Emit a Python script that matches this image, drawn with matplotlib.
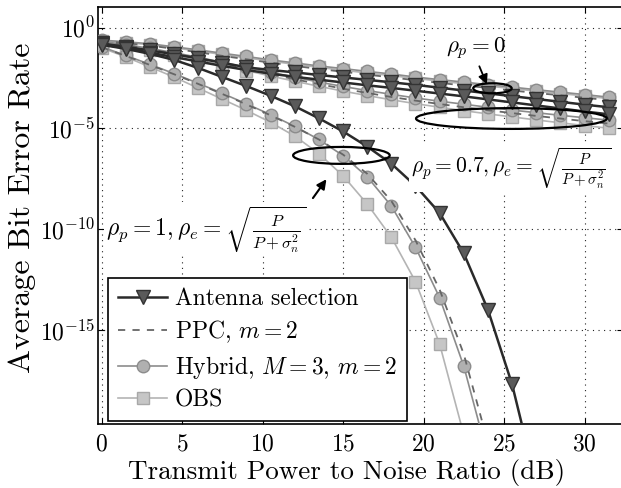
import numpy as np
from matplotlib import pyplot as plt
from matplotlib.patches import Ellipse

plt.rcParams['font.family'] = ['cmr10', 'DejaVu Serif']
plt.rcParams['mathtext.fontset'] = 'cm'
plt.rcParams['axes.formatter.use_mathtext'] = True

# SNR (dB), points every 1.5 dB
snr = np.arange(0, 33, 1.5)

# log10(BER)
# rho_p = 0
ant0 = [-0.78, -0.95, -1.13, -1.32, -1.52, -1.74, -1.97, -2.10, -2.22, -2.35, -2.47, -2.59,
        -2.71, -2.84, -2.98, -3.12, -3.26, -3.40, -3.54, -3.68, -3.82, -3.95]
ppc0 = [-0.66, -0.77, -0.89, -1.05, -1.22, -1.40, -1.57, -1.74, -1.90, -2.05, -2.19, -2.33,
        -2.47, -2.61, -2.74, -2.87, -2.99, -3.12, -3.24, -3.36, -3.48, -3.60]
hyb0 = [-0.62, -0.70, -0.80, -0.95, -1.10, -1.27, -1.43, -1.60, -1.75, -1.90, -2.03, -2.17,
        -2.30, -2.45, -2.58, -2.70, -2.83, -2.95, -3.08, -3.20, -3.32, -3.45]
obs0 = [-0.64, -0.74, -0.85, -1.00, -1.16, -1.33, -1.50, -1.66, -1.82, -1.97, -2.11, -2.25,
        -2.38, -2.52, -2.65, -2.78, -2.90, -3.02, -3.15, -3.27, -3.39, -3.52]
# rho_p = 0.7
ant07 = [-0.82, -1.02, -1.24, -1.46, -1.68, -1.90, -2.10, -2.28, -2.44, -2.58, -2.72, -2.86,
         -2.99, -3.13, -3.27, -3.41, -3.56, -3.71, -3.86, -4.01, -4.16, -4.30]
ppc07 = [-0.70, -0.87, -1.07, -1.29, -1.53, -1.79, -2.05, -2.31, -2.56, -2.80, -3.03, -3.24,
         -3.44, -3.62, -3.79, -3.95, -4.10, -4.24, -4.38, -4.51, -4.64, -4.76]
hyb07 = [-0.68, -0.84, -1.03, -1.24, -1.47, -1.72, -1.97, -2.22, -2.46, -2.70, -2.92, -3.12,
         -3.31, -3.49, -3.65, -3.80, -3.95, -4.09, -4.22, -4.35, -4.47, -4.59]
obs07 = [-0.72, -0.90, -1.11, -1.34, -1.59, -1.86, -2.13, -2.40, -2.66, -2.91, -3.15, -3.37,
         -3.58, -3.77, -3.95, -4.12, -4.28, -4.43, -4.58, -4.72, -4.86, -4.99]
# rho_p = 1
ant1 = [-0.85, -1.05, -1.30, -1.60, -2.00, -2.45, -2.90, -3.38, -3.90, -4.50, -5.15, -5.90,
        -6.75, -7.85, -9.20, -11.20, -14.00, -17.70, -22.60, -28.0, -34.0, -40.0]
ppc1 = [-0.97, -1.40, -1.85, -2.31, -2.79, -3.29, -3.81, -4.35, -4.92, -5.55, -6.30, -7.25,
        -8.60, -10.55, -13.00, -16.20, -20.60, -26.0, -32.0, -38.0, -44.0, -50.0]
hyb1 = [-0.95, -1.38, -1.82, -2.28, -2.76, -3.26, -3.78, -4.32, -4.90, -5.55, -6.35, -7.40,
        -8.85, -10.90, -13.40, -16.80, -21.30, -27.0, -34.0, -42.0, -50.0, -60.0]
obs1 = [-1.00, -1.45, -1.95, -2.45, -3.00, -3.55, -4.10, -4.70, -5.38, -6.25, -7.35, -8.75,
        -10.40, -12.60, -15.70, -20.20, -26.0, -33.0, -40.0, -48.0, -56.0, -64.0]

labels = ['Antenna selection', 'PPC, $m = 2$', 'Hybrid, $M = 3$, $m = 2$', 'OBS']

xmin, xmax = -0.22, 32.39
ylo, yhi = -19.67, 1.04

fig = plt.figure(figsize=(6.21, 4.88), dpi=100)
ax = fig.add_axes([98 / 621, 1 - 424 / 488, 525 / 621, 417.3 / 488])

st_obs = dict(color='#b4b4b4', lw=1.2, marker='s', ms=8, mfc='#c6c6c6', mec='#a8a8a8', zorder=2)
st_hyb = dict(color='#8c8c8c', lw=1.2, marker='o', ms=9, mfc='#b0b0b0', mec='#8c8c8c', zorder=3)
st_ppc = dict(color='#666666', lw=1.3, ls=(0, (4, 4)), zorder=4)
st_ant = dict(color='#2a2a2a', lw=1.8, marker='v', ms=10, mfc='#5a5a5a', mec='#333333', zorder=5)

for grp in [(ant0, ppc0, hyb0, obs0), (ant07, ppc07, hyb07, obs07), (ant1, ppc1, hyb1, obs1)]:
    a, p, h, o = [10.0 ** np.array(v) for v in grp]
    l_obs, = ax.semilogy(snr, o, **st_obs)
    l_hyb, = ax.semilogy(snr, h, **st_hyb)
    l_ppc, = ax.semilogy(snr, p, **st_ppc)
    l_ant, = ax.semilogy(snr, a, **st_ant)

ax.set_xlim(xmin, xmax)
ax.set_ylim(10 ** ylo, 10 ** yhi)
ax.set_xticks([0, 5, 10, 15, 20, 25, 30])
ax.set_yticks([1e0, 1e-5, 1e-10, 1e-15])
ax.minorticks_off()
ax.tick_params(direction='in', top=True, right=True, length=4, labelsize=17)
ax.tick_params(axis='y', pad=2)
ax.tick_params(axis='x', pad=7)
ax.grid(True, ls=(0, (1, 4)), color='#222222', lw=0.8)
for s in ax.spines.values():
    s.set_linewidth(1.2)

ax.set_xlabel('Transmit Power to Noise Ratio (dB)', fontsize=19.5)
ax.set_ylabel('Average Bit Error Rate', fontsize=23)
ax.xaxis.set_label_coords(0.474, -0.085)
ax.yaxis.set_label_coords(-0.118, 0.519)


def frac(x, lg):
    return ((x - xmin) / (xmax - xmin), (lg - ylo) / (yhi - ylo))


# ellipses (center dB, center log10 BER, width dB, height decades)
for cx, cy, w, h in [(24.28, -3.01, 2.39, 0.5), (25.46, -4.51, 11.85, 1.03), (14.9, -6.34, 6.0, 0.84)]:
    ax.add_patch(Ellipse(frac(cx, cy), w / (xmax - xmin), h / (yhi - ylo),
                         transform=ax.transAxes, fill=False, ec='black', lw=1.6, zorder=7))

ax.annotate('', xy=frac(24.0, -2.94), xytext=frac(23.4, -1.79),
            xycoords='axes fraction', textcoords='axes fraction',
            arrowprops=dict(arrowstyle='-|>', color='black', lw=1.3, mutation_scale=14), zorder=8)
ax.annotate('', xy=frac(14.07, -7.41), xytext=frac(13.03, -8.57),
            xycoords='axes fraction', textcoords='axes fraction',
            arrowprops=dict(arrowstyle='-|>', color='black', lw=1.5, mutation_scale=14), zorder=8)

bb = dict(facecolor='white', edgecolor='none', pad=1)
ax.text(23.23, 10 ** -1.07, r'$\rho_p = 0$', fontsize=16.5, ha='center', va='center', zorder=9)
ax.text(19.2, 10 ** -6.95, r'$\rho_p = 0.7, \rho_e = \sqrt{\frac{P}{P+\sigma_n^2}}$',
        fontsize=15.5, ha='left', va='center', bbox=bb, zorder=9)
ax.text(0.25, 10 ** -10.0, r'$\rho_p = 1, \rho_e = \sqrt{\frac{P}{P+\sigma_n^2}}$',
        fontsize=17, ha='left', va='center', bbox=bb, zorder=9)

leg = ax.legend([l_ant, l_ppc, l_hyb, l_obs], labels, loc='lower left',
                bbox_to_anchor=(0.019, 0.006), borderaxespad=0, fontsize=17,
                handlelength=2.1, handletextpad=0.3, labelspacing=0.36,
                fancybox=False, framealpha=1, edgecolor='black', borderpad=0.42)
leg.get_frame().set_linewidth(1.2)
leg.set_zorder(10)

plt.savefig('out.png', dpi=100)
